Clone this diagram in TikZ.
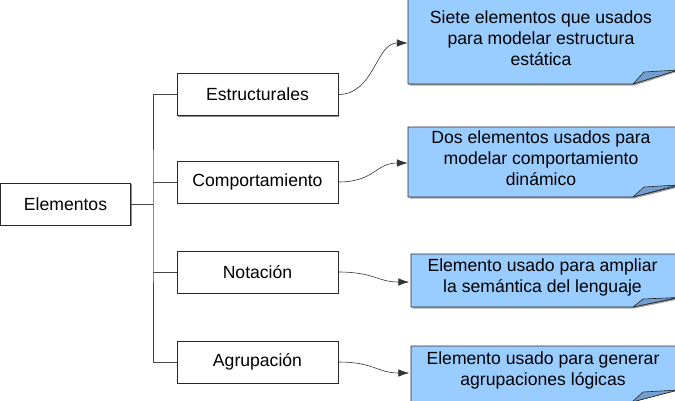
\documentclass[tikz,border=0pt]{standalone}
\usepackage{fontspec}
\setmainfont{Liberation Sans}
\usetikzlibrary{arrows.meta,shadows}
\definecolor{notefill}{RGB}{153,204,255}
\definecolor{flapfill}{RGB}{114,159,207}
\definecolor{edge}{RGB}{40,40,40}
\definecolor{treeline}{RGB}{70,70,70}
\begin{document}
\begin{tikzpicture}[x=1pt,y=-1pt,
  txt/.style={font=\fontsize{17.6}{21}\selectfont},
  box/.style={txt, draw=edge, line width=0.7pt, fill=white, inner sep=0pt,
    minimum width=161pt, minimum height=42pt,
    drop shadow={shadow xshift=1.2pt, shadow yshift=-1.2pt, fill=black!45, opacity=1}},
  tree/.style={draw=treeline, line width=0.8pt},
  conn/.style={draw=black!80, line width=0.6pt, -{Latex[length=11pt,width=7.5pt]}},
  notebody/.style={fill=notefill, draw=edge, line width=0.6pt, line join=round},
  noteshadow/.style={fill=black!35},
  flap/.style={fill=flapfill, draw=edge, line width=0.6pt, line join=round},
  notearea/.style={inner sep=0pt, minimum width=268pt},
  notetext/.style={txt, align=center, inner sep=0pt}]
\useasboundingbox (0,0) rectangle (675,400);

% left-side boxes
\node[box, minimum width=130pt, minimum height=42pt] (E) at (65.5,204) {Elementos};
\node[box] (s1) at (257.5,94.5) {Estructurales};
\node[box] (s2) at (257.5,182) {Comportamiento};
\node[box] (s3) at (257.5,272) {Notación};
\node[box] (s4) at (257.5,362) {Agrupación};

% tree
\coordinate (j) at (153,204);
\draw[tree] (E.east) -- (j);
\draw[tree] (s1.west) -| (j) |- (s4.west);
\draw[tree] (s2.west) -- (s2.west -| j);
\draw[tree] (s3.west) -- (s3.west -| j);

% notes (shapes)
\fill[noteshadow] (409.5,-2) -- (678,-2) -- (678,71.5) -- (634.5,85.5) -- (409.5,85.5) -- cycle;
\draw[notebody] (408,-2) -- (678,-2) -- (678,70) -- (633,84) -- (408,84) -- cycle;
\draw[flap] (633,84) -- (644,72) -- (678,70) -- cycle;

\fill[noteshadow] (409.5,128.5) -- (678,128.5) -- (678,187.5) -- (634.5,198.5) -- (409.5,198.5) -- cycle;
\draw[notebody] (408,127) -- (678,127) -- (678,186) -- (633,197) -- (408,197) -- cycle;
\draw[flap] (633,197) -- (644,187) -- (678,185) -- cycle;

\fill[noteshadow] (412.5,255.5) -- (678,255.5) -- (678,299.5) -- (634.5,308.5) -- (412.5,308.5) -- cycle;
\draw[notebody] (411,254) -- (678,254) -- (678,298) -- (633,307) -- (411,307) -- cycle;
\draw[flap] (633,307) -- (643,299) -- (678,297.5) -- cycle;

\draw[notebody] (411,346) -- (678,346) -- (678,390) -- (632,402) -- (411,402) -- cycle;
\draw[flap] (632,402) -- (643,392) -- (678,390) -- cycle;

% note areas (for connector ends)
\node[notearea, minimum height=84pt] (n1) at (542,43) {};
\node[notearea, minimum height=70pt] (n2) at (542,163) {};
\node[notearea, minimum height=53pt] (n3) at (543.5,282) {};
\node[notearea, minimum height=54pt] (n4) at (543.5,373) {};

% note texts
\node[notetext] (t1) at (541,38) {Siete elementos que usados\\para modelar estructura\\estática};
\node[notetext] (t2) at (541,158) {Dos elementos usados para\\modelar comportamiento\\dinámico};
\node[notetext] (t3) at (542.5,277) {Elemento usado para ampliar\\la semántica del lenguaje};
\node[notetext] (t4) at (543,370) {Elemento usado para generar\\agrupaciones lógicas};

% connectors
\draw[conn] (s1.east) .. controls +(36,0) and +(-32,0) .. (n1.west);
\draw[conn] (s2.east) .. controls +(36,0) and +(-32,0) .. (n2.west);
\draw[conn] (s3.east) .. controls +(36,0) and +(-32,0) .. (n3.west);
\draw[conn] (s4.east) .. controls +(36,0) and +(-32,0) .. (n4.west);
\end{tikzpicture}
\end{document}
